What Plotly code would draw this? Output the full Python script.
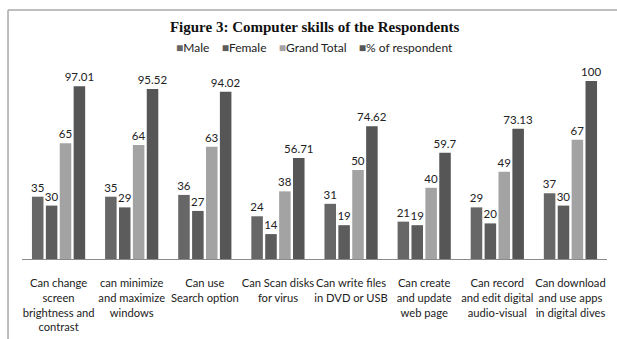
import plotly.graph_objects as go

categories = [
    "Can change<br>screen<br>brightness and<br>contrast",
    "can minimize<br>and maximize<br>windows",
    "Can use<br>Search option",
    "Can Scan disks<br>for virus",
    "Can write files<br>in DVD or USB",
    "Can create<br>and update<br>web page",
    "Can record<br>and edit digital<br>audio-visual",
    "Can download<br>and use apps<br>in digital dives",
]
male = [35, 35, 36, 24, 31, 21, 29, 37]
female = [30, 29, 27, 14, 19, 19, 20, 30]
grand_total = [65, 64, 63, 38, 50, 40, 49, 67]
pct_respondent = [97.01, 95.52, 94.02, 56.71, 74.62, 59.7, 73.13, 100]

series = [
    ("Male", male, "#676767"),
    ("Female", female, "#5c5c5c"),
    ("Grand Total", grand_total, "#a3a3a3"),
    ("% of respondent", pct_respondent, "#565656"),
]

fig = go.Figure()
for name, vals, col in series:
    fig.add_trace(go.Bar(
        x=categories, y=vals, name=name,
        marker=dict(color=col, line=dict(width=0)),
        text=[f"{v:g}" for v in vals],
        textposition="outside",
        constraintext="none",
        textfont=dict(family="Lato", size=11.5, color="#222"),
        cliponaxis=False, showlegend=False,
    ))

legend_text = "&nbsp;&nbsp;&nbsp;&nbsp;".join(
    f"<span style='color:{col}'>■</span>{name}" for name, _, col in series)

fig.update_layout(
    width=617, height=339,
    margin=dict(l=22, r=10, t=60, b=80),
    paper_bgcolor="white", plot_bgcolor="white",
    barmode="group", bargap=0.24, bargroupgap=0.17,
    title=dict(text="<b>Figure 3: Computer skills of the Respondents</b>",
               x=0.51, xanchor="center", y=0.92, yanchor="middle",
               font=dict(family="Liberation Serif", size=15, color="#111")),
    font=dict(family="Lato", size=12, color="#222"),
    showlegend=False,
    annotations=[dict(text=legend_text, xref="paper", yref="paper",
                      x=0.5, y=1.065, xanchor="center", yanchor="middle",
                      showarrow=False,
                      font=dict(family="Lato", size=12, color="#222"))],
)
fig.update_xaxes(showline=True, linecolor="#8a8a8a", linewidth=1, ticks="",
                 tickangle=0, ticklabelstandoff=14, automargin=False,
                 tickfont=dict(family="Lato", size=11.2, color="#222"),
                 showgrid=False)
fig.update_yaxes(visible=False, range=[0, 111.8], showgrid=False)

fig.add_shape(type="line", xref="paper", yref="paper",
              x0=-0.0239, x1=1.02, y0=1.251, y1=1.251,
              line=dict(color="#a8a8a8", width=1.5))
fig.add_shape(type="line", xref="paper", yref="paper",
              x0=-0.0239, x1=-0.0239, y0=1.251, y1=-0.41,
              line=dict(color="#a8a8a8", width=1.5))

fig.write_html("out.html")
